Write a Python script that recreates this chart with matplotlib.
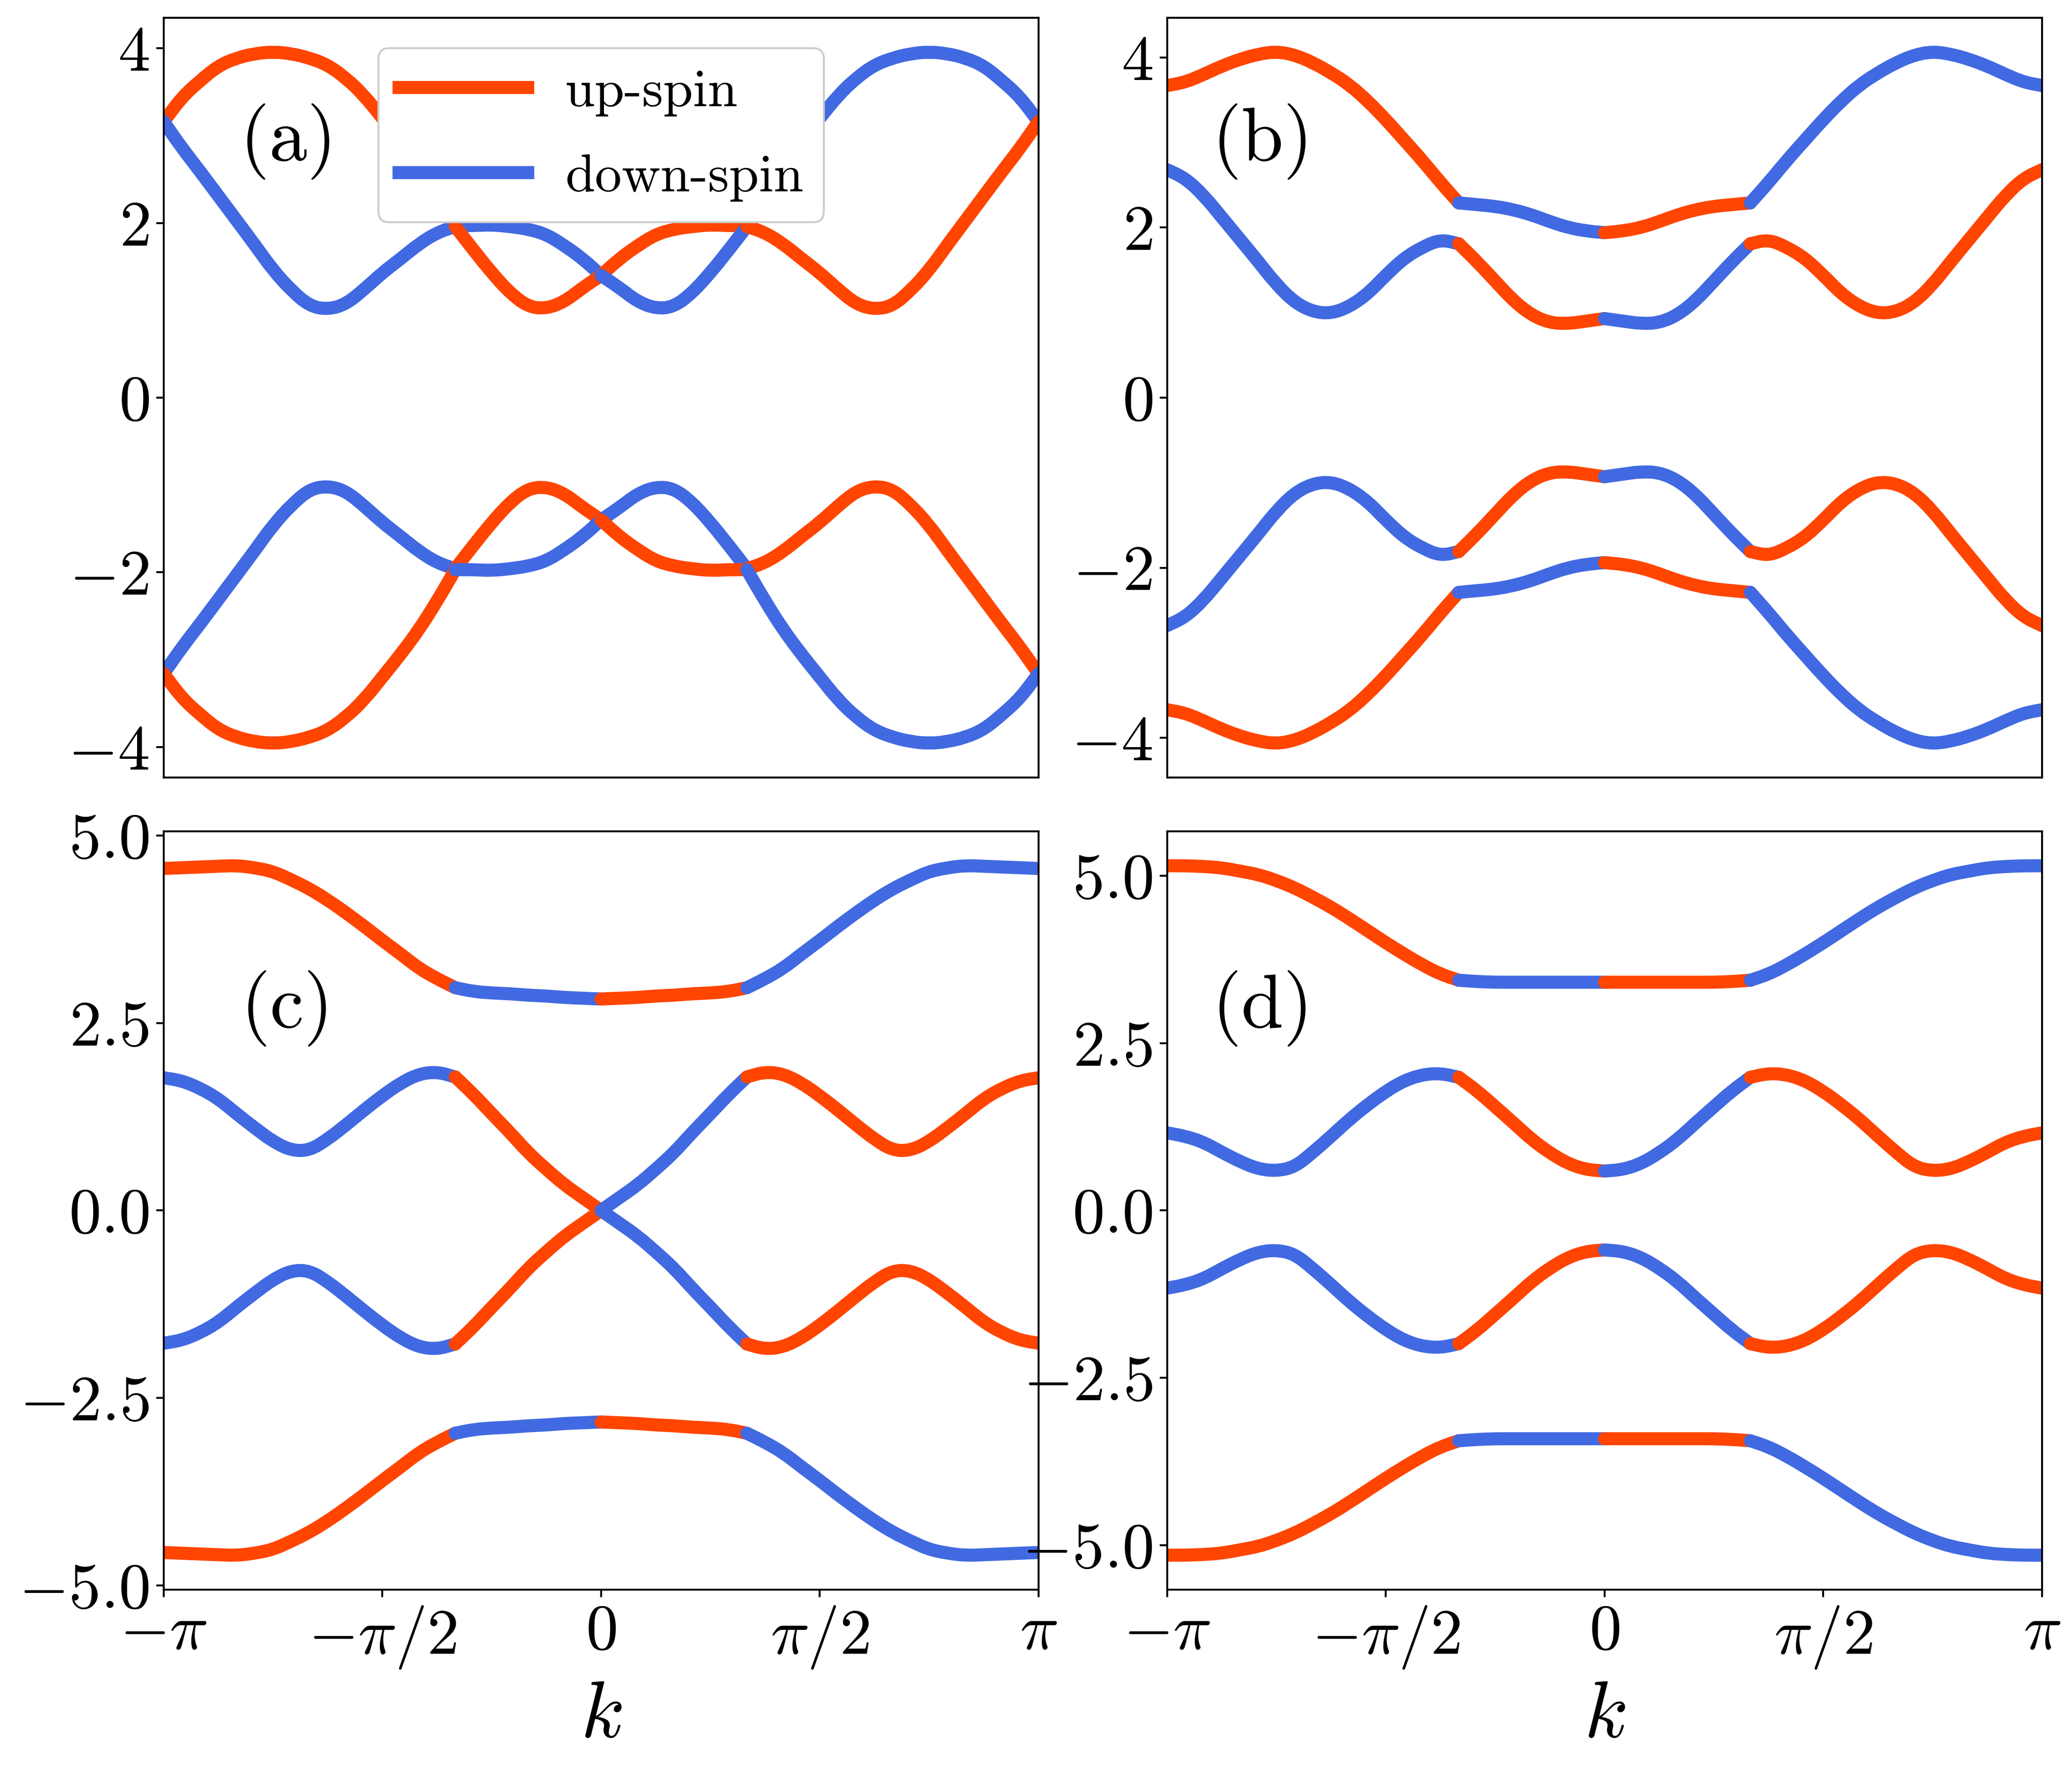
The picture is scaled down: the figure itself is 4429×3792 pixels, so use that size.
import numpy as np
import matplotlib
matplotlib.use('Agg')
import matplotlib.pyplot as plt
from matplotlib.path import Path
from matplotlib.patches import PathPatch

# k sampled on a grid of pi/24 from -pi to pi (49 points)
k = np.linspace(-np.pi, np.pi, 49)

# band energies, top band (1) to bottom band (4)
a1 = [3.16, 3.44, 3.63, 3.80, 3.89, 3.94, 3.96, 3.94, 3.89, 3.81, 3.66, 3.46, 3.20, 2.94, 2.66, 2.33, 1.97,
      1.97, 1.98, 1.96, 1.93, 1.87, 1.74, 1.59, 1.40, 1.59, 1.74, 1.87, 1.93, 1.96, 1.98, 1.97, 1.97,
      2.33, 2.66, 2.94, 3.20, 3.46, 3.66, 3.81, 3.89, 3.94, 3.96, 3.94, 3.89, 3.80, 3.63, 3.44, 3.16]
a2 = [3.16, 2.86, 2.59, 2.31, 2.03, 1.75, 1.46, 1.23, 1.05, 1.01, 1.07, 1.24, 1.43, 1.59, 1.76, 1.89, 1.96,
      1.69, 1.43, 1.20, 1.04, 1.02, 1.10, 1.26, 1.40, 1.26, 1.10, 1.02, 1.04, 1.20, 1.43, 1.69, 1.96,
      1.89, 1.76, 1.59, 1.43, 1.24, 1.07, 1.01, 1.05, 1.23, 1.46, 1.75, 2.03, 2.31, 2.59, 2.86, 3.16]
a3 = [-3.16, -2.86, -2.59, -2.31, -2.03, -1.75, -1.46, -1.23, -1.05, -1.01, -1.07, -1.24, -1.43, -1.59, -1.76, -1.89, -1.96,
      -1.69, -1.43, -1.20, -1.04, -1.02, -1.10, -1.26, -1.40, -1.26, -1.10, -1.02, -1.04, -1.20, -1.43, -1.69, -1.96,
      -1.89, -1.76, -1.59, -1.43, -1.24, -1.07, -1.01, -1.05, -1.23, -1.46, -1.75, -2.03, -2.31, -2.59, -2.86, -3.16]
a4 = [-3.16, -3.44, -3.63, -3.80, -3.89, -3.94, -3.96, -3.94, -3.89, -3.81, -3.66, -3.46, -3.20, -2.94, -2.66, -2.33, -1.97,
      -1.97, -1.98, -1.96, -1.93, -1.87, -1.74, -1.59, -1.40, -1.59, -1.74, -1.87, -1.93, -1.96, -1.98, -1.97, -1.97,
      -2.33, -2.66, -2.94, -3.20, -3.46, -3.66, -3.81, -3.89, -3.94, -3.96, -3.94, -3.89, -3.80, -3.63, -3.44, -3.16]

b1 = [3.67, 3.71, 3.80, 3.90, 3.98, 4.04, 4.07, 4.03, 3.94, 3.82, 3.68, 3.49, 3.27, 3.03, 2.79, 2.53, 2.29,
      2.27, 2.25, 2.21, 2.15, 2.07, 2.00, 1.96, 1.94, 1.96, 2.00, 2.07, 2.15, 2.21, 2.25, 2.27, 2.29,
      2.53, 2.79, 3.03, 3.27, 3.49, 3.68, 3.82, 3.94, 4.03, 4.07, 4.04, 3.98, 3.90, 3.80, 3.71, 3.67]
b2 = [2.68, 2.58, 2.38, 2.12, 1.86, 1.60, 1.33, 1.12, 1.01, 0.99, 1.07, 1.22, 1.44, 1.64, 1.77, 1.86, 1.81,
      1.60, 1.37, 1.14, 0.97, 0.88, 0.87, 0.90, 0.93, 0.90, 0.87, 0.88, 0.97, 1.14, 1.37, 1.60, 1.81,
      1.86, 1.77, 1.64, 1.44, 1.22, 1.07, 0.99, 1.01, 1.12, 1.33, 1.60, 1.86, 2.12, 2.38, 2.58, 2.68]
b3 = [-2.68, -2.58, -2.38, -2.12, -1.86, -1.60, -1.33, -1.12, -1.01, -0.99, -1.07, -1.22, -1.44, -1.64, -1.77, -1.86, -1.81,
      -1.60, -1.37, -1.14, -0.97, -0.88, -0.87, -0.90, -0.93, -0.90, -0.87, -0.88, -0.97, -1.14, -1.37, -1.60, -1.81,
      -1.86, -1.77, -1.64, -1.44, -1.22, -1.07, -0.99, -1.01, -1.12, -1.33, -1.60, -1.86, -2.12, -2.38, -2.58, -2.68]
b4 = [-3.67, -3.71, -3.80, -3.90, -3.98, -4.04, -4.07, -4.03, -3.94, -3.82, -3.68, -3.49, -3.27, -3.03, -2.79, -2.53, -2.29,
      -2.27, -2.25, -2.21, -2.15, -2.07, -2.00, -1.96, -1.94, -1.96, -2.00, -2.07, -2.15, -2.21, -2.25, -2.27, -2.29,
      -2.53, -2.79, -3.03, -3.27, -3.49, -3.68, -3.82, -3.94, -4.03, -4.07, -4.04, -3.98, -3.90, -3.80, -3.71, -3.67]

c1 = [4.56, 4.57, 4.58, 4.59, 4.60, 4.57, 4.52, 4.41, 4.29, 4.14, 3.97, 3.79, 3.60, 3.42, 3.23, 3.09, 2.97,
      2.92, 2.90, 2.89, 2.87, 2.86, 2.84, 2.83, 2.82, 2.83, 2.84, 2.86, 2.87, 2.89, 2.90, 2.92, 2.97,
      3.09, 3.23, 3.42, 3.60, 3.79, 3.97, 4.14, 4.29, 4.41, 4.52, 4.57, 4.60, 4.59, 4.58, 4.57, 4.56]
c2 = [1.77, 1.73, 1.63, 1.49, 1.29, 1.10, 0.92, 0.80, 0.80, 0.95, 1.14, 1.34, 1.53, 1.70, 1.82, 1.85, 1.78,
      1.55, 1.29, 1.04, 0.77, 0.55, 0.34, 0.17, 0.00, 0.17, 0.34, 0.55, 0.77, 1.04, 1.29, 1.55, 1.78,
      1.85, 1.82, 1.70, 1.53, 1.34, 1.14, 0.95, 0.80, 0.80, 0.92, 1.10, 1.29, 1.49, 1.63, 1.73, 1.77]
c3 = [-1.77, -1.73, -1.63, -1.49, -1.29, -1.10, -0.92, -0.80, -0.80, -0.95, -1.14, -1.34, -1.53, -1.70, -1.82, -1.85, -1.78,
      -1.55, -1.29, -1.04, -0.77, -0.55, -0.34, -0.17, 0.00, -0.17, -0.34, -0.55, -0.77, -1.04, -1.29, -1.55, -1.78,
      -1.85, -1.82, -1.70, -1.53, -1.34, -1.14, -0.95, -0.80, -0.80, -0.92, -1.10, -1.29, -1.49, -1.63, -1.73, -1.77]
c4 = [-4.56, -4.57, -4.58, -4.59, -4.60, -4.57, -4.52, -4.41, -4.29, -4.14, -3.97, -3.79, -3.60, -3.42, -3.23, -3.09, -2.97,
      -2.92, -2.90, -2.89, -2.87, -2.86, -2.84, -2.83, -2.82, -2.83, -2.84, -2.86, -2.87, -2.89, -2.90, -2.92, -2.97,
      -3.09, -3.23, -3.42, -3.60, -3.79, -3.97, -4.14, -4.29, -4.41, -4.52, -4.57, -4.60, -4.59, -4.58, -4.57, -4.56]

d1 = [5.15, 5.15, 5.14, 5.12, 5.07, 5.02, 4.93, 4.82, 4.68, 4.53, 4.36, 4.18, 4.00, 3.83, 3.67, 3.53, 3.44,
      3.42, 3.41, 3.41, 3.41, 3.41, 3.41, 3.41, 3.41, 3.41, 3.41, 3.41, 3.41, 3.41, 3.41, 3.42, 3.44,
      3.53, 3.67, 3.83, 4.00, 4.18, 4.36, 4.53, 4.68, 4.82, 4.93, 5.02, 5.07, 5.12, 5.14, 5.15, 5.15]
d2 = [1.16, 1.11, 1.02, 0.87, 0.73, 0.62, 0.59, 0.65, 0.87, 1.11, 1.36, 1.58, 1.78, 1.94, 2.03, 2.05, 1.99,
      1.79, 1.55, 1.31, 1.06, 0.86, 0.70, 0.61, 0.59, 0.61, 0.70, 0.86, 1.06, 1.31, 1.55, 1.79, 1.99,
      2.05, 2.03, 1.94, 1.78, 1.58, 1.36, 1.11, 0.87, 0.65, 0.59, 0.62, 0.73, 0.87, 1.02, 1.11, 1.16]
d3 = [-1.16, -1.11, -1.02, -0.87, -0.73, -0.62, -0.59, -0.65, -0.87, -1.11, -1.36, -1.58, -1.78, -1.94, -2.03, -2.05, -1.99,
      -1.79, -1.55, -1.31, -1.06, -0.86, -0.70, -0.61, -0.59, -0.61, -0.70, -0.86, -1.06, -1.31, -1.55, -1.79, -1.99,
      -2.05, -2.03, -1.94, -1.78, -1.58, -1.36, -1.11, -0.87, -0.65, -0.59, -0.62, -0.73, -0.87, -1.02, -1.11, -1.16]
d4 = [-5.15, -5.15, -5.14, -5.12, -5.07, -5.02, -4.93, -4.82, -4.68, -4.53, -4.36, -4.18, -4.00, -3.83, -3.67, -3.53, -3.44,
      -3.42, -3.41, -3.41, -3.41, -3.41, -3.41, -3.41, -3.41, -3.41, -3.41, -3.41, -3.41, -3.41, -3.41, -3.42, -3.44,
      -3.53, -3.67, -3.83, -4.00, -4.18, -4.36, -4.53, -4.68, -4.82, -4.93, -5.02, -5.07, -5.12, -5.14, -5.15, -5.15]

panel_bands = {'a': [a1, a2, a3, a4], 'b': [b1, b2, b3, b4],
               'c': [c1, c2, c3, c4], 'd': [d1, d2, d3, d4]}

# spin character switches at k = -pi/3, 0, pi/3 (grid indices)
cuts = [0, 16, 24, 32, 48]
UP = '#FF4500'
DOWN = '#4169E1'
spin_order = {0: [UP, DOWN, UP, DOWN], 1: [DOWN, UP, DOWN, UP],
              2: [DOWN, UP, DOWN, UP], 3: [UP, DOWN, UP, DOWN]}

yticks_top = [-4, -2, 0, 2, 4]
yticks_bot = [-5.0, -2.5, 0.0, 2.5, 5.0]
xticks = [-np.pi, -np.pi/2, 0, np.pi/2, np.pi]
xticklabels = [r'$-\pi$', r'$-\pi/2$', r'$0$', r'$\pi/2$', r'$\pi$']

plt.rcParams['font.family'] = 'serif'
plt.rcParams['font.serif'] = ['cmr10']
plt.rcParams['mathtext.fontset'] = 'cm'
plt.rcParams['axes.formatter.use_mathtext'] = True
plt.rcParams['axes.linewidth'] = 1.0
plt.rcParams['xtick.major.width'] = 1.0
plt.rcParams['ytick.major.width'] = 1.0
plt.rcParams['xtick.major.size'] = 3.9
plt.rcParams['ytick.major.size'] = 3.9

LW = 6.7


def smooth_path(x, y):
    # quadratic bezier through the midpoints, using the read points as controls
    pts = np.column_stack([x, y])
    verts = [pts[0], (pts[0] + pts[1]) / 2]
    codes = [Path.MOVETO, Path.LINETO]
    for i in range(1, len(pts) - 1):
        verts += [pts[i], (pts[i] + pts[i+1]) / 2]
        codes += [Path.CURVE3, Path.CURVE3]
    verts.append(pts[-1])
    codes.append(Path.LINETO)
    return Path(verts, codes)


fig = plt.figure(figsize=(4429/300, 3792/300), dpi=300)
rects = {'a': [0.0790, 0.5617, 0.4222, 0.4283],
         'b': [0.5633, 0.5617, 0.4222, 0.4283],
         'c': [0.0790, 0.1039, 0.4222, 0.4275],
         'd': [0.5633, 0.1039, 0.4222, 0.4275]}
label_pos = {'a': (0.087, 0.812), 'b': (0.051, 0.812),
             'c': (0.088, 0.7415), 'd': (0.051, 0.7415)}

for name in ['a', 'b', 'c', 'd']:
    ax = fig.add_axes(rects[name])
    for n, e in enumerate(panel_bands[name]):
        e = np.asarray(e)
        for s in range(4):
            i0, i1 = cuts[s], cuts[s+1]
            ax.add_patch(PathPatch(smooth_path(k[i0:i1+1], e[i0:i1+1]), fill=False,
                                   edgecolor=spin_order[n][s], lw=LW,
                                   capstyle='round', joinstyle='round'))
    ax.autoscale_view()
    ax.set_xlim(-np.pi, np.pi)
    ax.tick_params(labelsize=33)
    if name in ('a', 'b'):
        ax.set_yticks(yticks_top)
        ax.set_xticks([])
    else:
        ax.set_yticks(yticks_bot)
        ax.set_xticks(xticks)
        ax.set_xticklabels(xticklabels)
        ax.set_xlabel(r'$k$', fontsize=41, labelpad=5.5)
    ax.text(label_pos[name][0], label_pos[name][1], '(%s)' % name, transform=ax.transAxes,
            fontsize=39, ha='left', va='baseline')
    if name == 'a':
        ax.plot([], [], color=UP, lw=LW, label='up-spin')
        ax.plot([], [], color=DOWN, lw=LW, label='down-spin')
        ax.legend(loc='upper center', fontsize=27.5, framealpha=1.0, handlelength=2.4,
                  handletextpad=0.7, borderpad=0.38, labelspacing=0.7,
                  bbox_to_anchor=(0.5, 0.995))

fig.savefig('out.png', dpi=300)
